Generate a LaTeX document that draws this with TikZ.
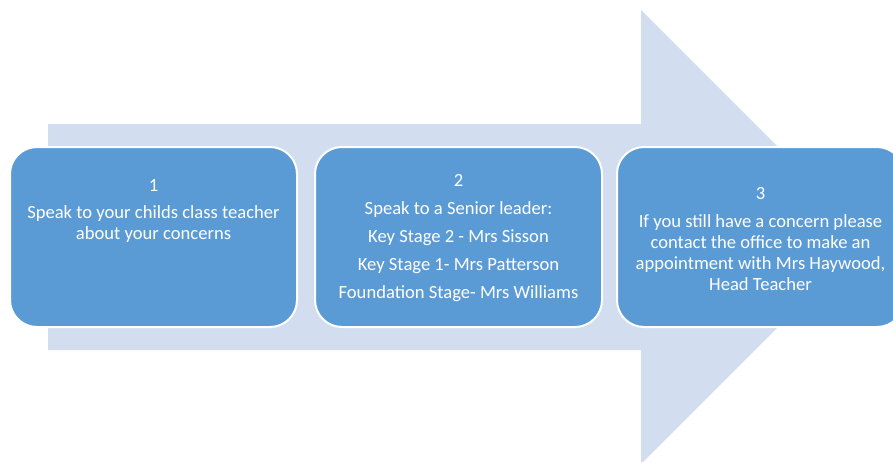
\documentclass[tikz,border=0pt]{standalone}
\usepackage{fontspec}
\setmainfont{Carlito}
\usetikzlibrary{positioning}
\definecolor{stepblue}{HTML}{5B9BD5}
\definecolor{arrowfill}{HTML}{D2DEEF}
\tikzset{
  stepbox/.style={draw=white, line width=2pt, fill=stepblue, rounded corners=27pt,
    minimum width=287pt, minimum height=180pt, inner sep=0pt},
  steptext/.style={text=white, align=center, inner sep=0pt, font=\fontsize{18.6}{21}\selectfont}
}

\begin{document}
\begin{tikzpicture}[x=1pt,y=-1pt]
	\useasboundingbox (0,0) rectangle (893,461);
	\clip (0,0) rectangle (893,461);
	% big arrow behind the steps
	\fill[arrowfill] (48,124) -- (641,124) -- (641,10) -- (868,237) -- (641,464) -- (641,350) -- (48,350) -- cycle;
	\node[stepbox] (box1) at (153.5,237) {};
	\node[stepbox] (box2) at (458.5,237) {};
	\node[stepbox] (box3) at (760.5,237) {};
	\node[steptext, below=33pt of box1.north] (txt1) {1\\[6pt]Speak to your childs class teacher\\about your concerns};
	\node[steptext, below=28pt of box2.north] (txt2) {2\\[7pt]Speak to a Senior leader:\\[7pt]Key Stage 2 - Mrs Sisson\\[7pt]Key Stage 1- Mrs Patterson\\[7pt]Foundation Stage- Mrs Williams};
	\node[steptext, below=41pt of box3.north] (txt3) {3\\[7pt]If you still have a concern please\\contact the office to make an\\appointment with Mrs Haywood,\\Head Teacher};
\end{tikzpicture}
\end{document}
